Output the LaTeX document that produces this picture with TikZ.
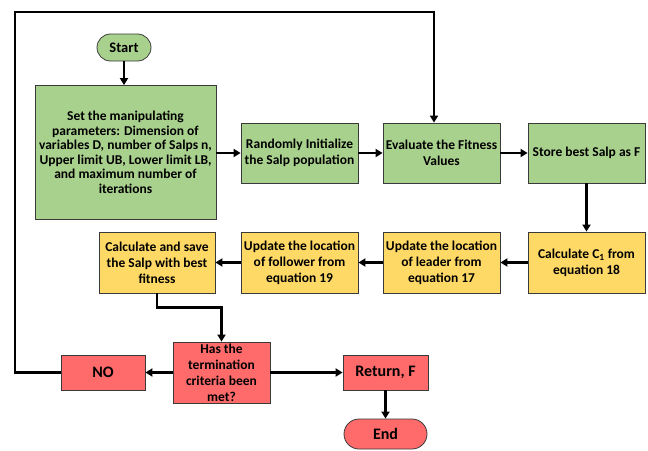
\documentclass[tikz,border=0pt]{standalone}
\usepackage{fontspec}
\setmainfont{Carlito}
\usetikzlibrary{arrows.meta,shapes.misc,calc}
\definecolor{gfill}{HTML}{A9D18E}
\definecolor{yfill}{HTML}{FFD966}
\definecolor{rfill}{HTML}{FF6B6B}
\definecolor{bord}{HTML}{3A3A3A}
\begin{document}
\begin{tikzpicture}[x=1pt,y=-1pt,
  box/.style={draw=bord,line width=0.8pt,align=center,inner sep=1pt,
    font=\fontsize{13.5}{16}\selectfont\bfseries},
  gbox/.style={box,fill=gfill},
  ybox/.style={box,fill=yfill},
  rbox/.style={box,fill=rfill},
  big/.style={font=\fontsize{16}{18}\selectfont\bfseries},
  term/.style={rounded rectangle,draw=bord,line width=0.8pt,inner sep=1pt},
  conn/.style={line width=2.4pt,-{Triangle[length=7pt,width=8pt]}}]
\useasboundingbox (0,0) rectangle (648,450);
\node[term,fill=gfill,minimum width=56pt,minimum height=27pt,font=\fontsize{14.5}{17}\selectfont\bfseries] (start) at (124,47.5) {Start};
\node[gbox,minimum width=181pt,minimum height=134pt,font=\fontsize{13.5}{14.5}\selectfont\bfseries] (set) at (125.5,152.5)
  {Set the manipulating\\parameters: Dimension of\\variables D, number of Salps n,\\Upper limit UB, Lower limit LB,\\and maximum number of\\iterations};
\node[gbox,minimum width=117pt,minimum height=60pt] (rand) at (299.5,153)
  {Randomly Initialize\\the Salp population};
\node[gbox,minimum width=117pt,minimum height=60pt] (eval) at (441.5,153)
  {Evaluate the Fitness\\Values};
\node[gbox,minimum width=117pt,minimum height=60pt] (store) at (586.5,153)
  {Store best Salp as F};
\node[ybox,minimum width=117pt,minimum height=61pt] (cone) at (586.5,262.5)
  {Calculate C\textsubscript{1} from\\equation 18};
\node[ybox,minimum width=117pt,minimum height=61pt] (lead) at (441.5,262.5)
  {Update the location\\of leader from\\equation 17};
\node[ybox,minimum width=117pt,minimum height=61pt] (foll) at (299.5,262.5)
  {Update the location\\of follower from\\equation 19};
\node[ybox,minimum width=116pt,minimum height=61pt] (save) at (157,262.5)
  {Calculate and save\\the Salp with best\\fitness};
\node[rbox,minimum width=97pt,minimum height=61pt] (dec) at (221.5,372.5)
  {Has the\\termination\\criteria been\\met?};
\node[rbox,big,minimum width=84pt,minimum height=35pt] (no) at (103,372.5) {NO};
\node[rbox,big,minimum width=85pt,minimum height=35pt] (ret) at (385.5,372.5) {Return, F};
\node[term,big,fill=rfill,minimum width=85pt,minimum height=30pt] (end) at (385.5,434) {End};
\coordinate (lb) at (15,372.5);
\coordinate (lt) at (15,12);
\coordinate (rt) at (434,12);
\draw[conn] (start.south) -- (start.south |- set.north);
\draw[conn] (set.east |- rand.west) -- (rand.west);
\draw[conn] (rand.east) -- (eval.west);
\draw[conn] (eval.east) -- (store.west);
\draw[conn] (store.south) -- (cone.north);
\draw[conn] (cone.west) -- (lead.east);
\draw[conn] (lead.west) -- (foll.east);
\draw[conn] (foll.west) -- (save.east);
\draw[conn] (save.south) -- ++(0,14) -| (dec.north);
\draw[conn] (dec.west) -- (no.east);
\draw[conn] (dec.east) -- (ret.west);
\draw[conn] (ret.south) -- (end.north);
\draw[conn] (no.west) -- (lb) -- (lt) -- (rt) -- (rt |- eval.north);
\end{tikzpicture}
\end{document}
